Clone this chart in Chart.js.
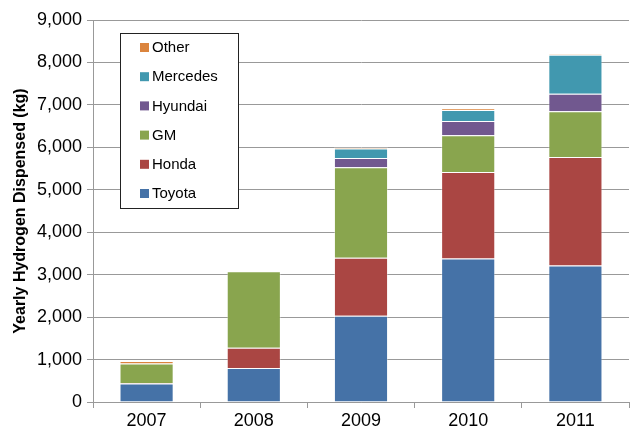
<!DOCTYPE html>
<html>
<head>
<meta charset="utf-8">
<script src="https://cdn.jsdelivr.net/npm/chart.js@4"></script>
<style>
  html, body { margin: 0; padding: 0; background: #fff; }
  #wrap { width: 633px; height: 428px; }
</style>
</head>
<body>
<div id="wrap"><canvas id="grafico" width="633" height="428"></canvas></div>
<script>
const anos = ['2007', '2008', '2009', '2010', '2011'];
const toyota = [435, 800, 2035, 3380, 3215];
const honda = [15, 480, 1365, 2040, 2560];
const gm = [455, 1800, 2130, 865, 1075];
const hyundai = [0, 0, 220, 335, 410];
const mercedes = [0, 0, 220, 260, 920];
const other = [60, 0, 30, 40, 20];
const yTicks = [0, 1000, 2000, 3000, 4000, 5000, 6000, 7000, 8000, 9000];

const fonte = '"Liberation Sans", Arial, sans-serif';

function serie(label, data, cor) {
    return {
        label: label,
        data: data,
        backgroundColor: cor,
        borderColor: 'rgba(255,255,255,0.35)',
        borderWidth: 1,
        barPercentage: 0.505,
        categoryPercentage: 1.0
    };
}

// legenda desenhada dentro da area do grafico, em ordem inversa
const legendaBox = {
    id: 'legendaBox',
    afterDraw(chart) {
        const c = chart.ctx;
        const x0 = 120, y0 = 33, w = 118, h = 175;
        c.save();
        c.fillStyle = '#fff';
        c.fillRect(x0, y0, w, h);
        c.strokeStyle = '#222';
        c.lineWidth = 1;
        c.strokeRect(x0 + 0.5, y0 + 0.5, w, h);
        c.font = '15px ' + fonte;
        c.textBaseline = 'middle';
        const ds = chart.data.datasets.slice().reverse();
        ds.forEach((d, i) => {
            const cy = 47 + i * 29.2;
            c.fillStyle = d.backgroundColor;
            c.fillRect(140, cy - 4, 9, 9);
            c.fillStyle = '#000';
            c.fillText(d.label, 152, cy + 1);
        });
        c.restore();
    }
};

const ctx = document.getElementById('grafico').getContext('2d');

const grafico = new Chart(ctx, {
    type: 'bar',
    data: {
        labels: anos,
        datasets: [
            serie('Toyota', toyota, '#4572A7'),
            serie('Honda', honda, '#AA4643'),
            serie('GM', gm, '#89A54E'),
            serie('Hyundai', hyundai, '#71588F'),
            serie('Mercedes', mercedes, '#4198AF'),
            serie('Other', other, '#DB843D')
        ]
    },
    options: {
        responsive: false,
        animation: false,
        layout: { padding: { top: 20, right: 4, left: 0, bottom: 0 } },
        plugins: {
            legend: { display: false },
            tooltip: { enabled: false }
        },
        scales: {
            x: {
                stacked: true,
                afterFit(axis) { axis.height = 26; },
                grid: {
                    offset: true,
                    drawOnChartArea: false,
                    drawTicks: true,
                    tickLength: 6,
                    color: '#999'
                },
                border: { color: '#999' },
                ticks: {
                    padding: 2,
                    color: '#000',
                    font: { family: fonte, size: 18 }
                }
            },
            y: {
                stacked: true,
                min: 0,
                max: 9000,
                afterFit(axis) { axis.width = 93; },
                afterBuildTicks(axis) {
                    axis.ticks = yTicks.map(v => ({ value: v }));
                },
                grid: {
                    color: '#999',
                    tickLength: 6
                },
                border: { color: '#999' },
                ticks: {
                    padding: 5,
                    color: '#000',
                    font: { family: fonte, size: 18 },
                    callback: v => v.toLocaleString('en-US')
                },
                title: {
                    display: true,
                    text: 'Yearly Hydrogen Dispensed (kg)',
                    color: '#000',
                    padding: { top: 11, bottom: 0 },
                    font: { family: fonte, size: 16, weight: 'bold' }
                }
            }
        }
    },
    plugins: [legendaBox]
});
</script>
</body>
</html>
